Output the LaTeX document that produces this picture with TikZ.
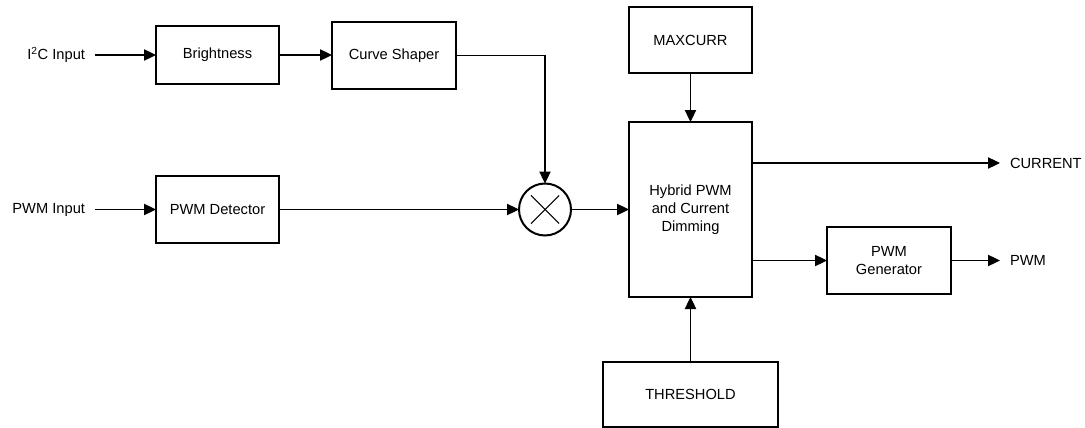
\documentclass[tikz,border=0pt]{standalone}
\usepackage{fontspec}
\setmainfont{Liberation Sans}
\usetikzlibrary{arrows.meta}
\begin{document}
\begin{tikzpicture}[x=0.75pt,y=-0.75pt,font=\fontsize{11}{13.5}\selectfont,
	block/.style={draw,line width=1.5pt,inner sep=0,outer sep=0,align=center},
	sig/.style={line width=0.8pt,-{Triangle[length=9pt,width=8.5pt]}},
	port/.style={inner xsep=7.5pt,inner ysep=0,outer sep=0}]
	\useasboundingbox (0,0) rectangle (1085,428);
	\node[block,minimum width=92.25pt,minimum height=43.5pt] (bright) at (217.5,55) {Brightness};
	\node[block,minimum width=93pt,minimum height=50.25pt] (shaper) at (394,55.5) {Curve Shaper};
	\node[block,minimum width=92.25pt,minimum height=50.25pt] (detect) at (217.5,209.5) {PWM Detector};
	\node[block,minimum width=92.25pt,minimum height=49.5pt] (maxcurr) at (690.5,40) {MAXCURR};
	\node[block,minimum width=92.25pt,minimum height=131.25pt] (hybrid) at (690.5,209.5) {Hybrid PWM\\and Current\\Dimming};
	\node[block,minimum width=93pt,minimum height=50.25pt] (pwmgen) at (889,260.5) {PWM\\Generator};
	\node[block,minimum width=131.25pt,minimum height=48.75pt] (thresh) at (690.5,394.5) {THRESHOLD};
	\node[draw,circle,line width=1.5pt,inner sep=0,outer sep=0,minimum size=39pt] (mix) at (545,209.5) {};
	\node[port,anchor=east] (i2c) at (95,55) {I\textsuperscript{2}C Input};
	\node[port,anchor=east] (pwmin) at (95,209.5) {PWM Input};
	\node[port,anchor=west] (current) at (1000,163) {CURRENT};
	\node[port,anchor=west] (pwmout) at (1000,260.5) {PWM};
	\draw[line width=0.8pt,shorten <=4.6pt,shorten >=4.6pt] (mix.north west) -- (mix.south east);
	\draw[line width=0.8pt,shorten <=4.6pt,shorten >=4.6pt] (mix.north east) -- (mix.south west);
	\draw[sig] (i2c.east) -- (i2c.east -| bright.west);
	\draw[sig] (bright) -- (bright -| shaper.west);
	\draw[sig] (shaper.east) -| (mix.north);
	\draw[sig] (pwmin.east) -- (detect);
	\draw[sig] (detect) -- (mix);
	\draw[sig] (mix) -- (hybrid);
	\draw[sig] (maxcurr) -- (hybrid);
	\draw[sig] (thresh) -- (hybrid);
	\draw[sig] (hybrid.east |- current.west) -- (current.west);
	\draw[sig] (hybrid.east |- pwmgen.west) -- (pwmgen);
	\draw[sig] (pwmgen) -- (pwmout.west);
\end{tikzpicture}
\end{document}
